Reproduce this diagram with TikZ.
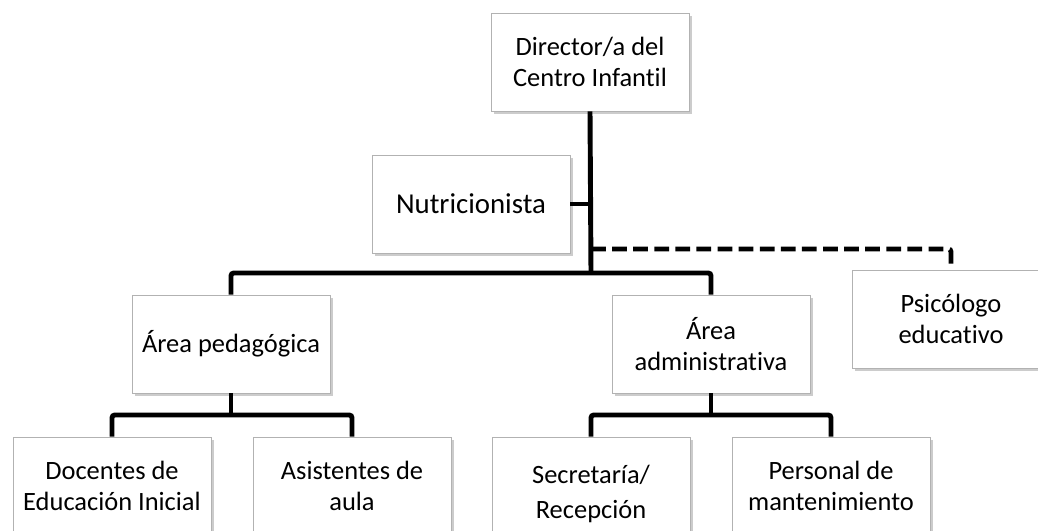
\documentclass[tikz,border=0pt]{standalone}
\usepackage{fontspec}
\setmainfont{Carlito}[Ligatures={NoCommon}]
\usetikzlibrary{shadows}
\tikzset{
	box/.style={draw=gray!60,fill=white,align=center,inner sep=2pt,
		minimum width=4.95cm,minimum height=2.45cm,
		drop shadow={opacity=0.4,shadow xshift=1.8pt,shadow yshift=-1.8pt},
		font=\fontsize{18.8}{22}\selectfont},
	link/.style={line width=3.5pt,rounded corners=2pt},
	dashlink/.style={link,dash pattern=on 10.5pt off 4.5pt}
}
\begin{document}
\begin{tikzpicture}[x=0.025cm,y=-0.025cm]
		\useasboundingbox (0,0) rectangle (1038,531);
		\draw (590,62) node[box](Dir) {Director/a del\\Centro Infantil};
		\draw (471,204) node[box,font=\fontsize{20.5}{24}\selectfont](Nut) {Nutricionista};
		\draw (231,344) node[box](Ped) {Área pedagógica};
		\draw (711,344) node[box](Adm) {Área\\administrativa};
		\draw (951,319) node[box](Psi) {Psicólogo\\educativo};
		\draw (112,486) node[box](Doc) {Docentes de\\Educación Inicial};
		\draw (352,486) node[box](Asi) {Asistentes de\\aula};
		\draw (591,494) node[box,minimum height=2.85cm,font=\fontsize{18.8}{25}\selectfont](Sec) {Secretaría/\\Recepción};
		\draw (831,486) node[box](Per) {Personal de\\mantenimiento};
		\coordinate (bar) at (591,273);
		\coordinate (dsh) at (591,249);
		\coordinate (pbar) at (231,415);
		\coordinate (abar) at (711,415);
        \draw[link] (Dir.south) -- (bar);
        \draw[link] (Nut.east) -- (Nut.east -| bar);
        \draw[dashlink] (dsh) -| (Psi.north);
        \draw[link] (Ped.north) |- (bar) -| (Adm.north);
        \draw[link] (Ped.south) -- (pbar);
        \draw[link] (Doc.north) |- (pbar) -| (Asi.north);
        \draw[link] (Adm.south) -- (abar);
        \draw[link] (Sec.north) |- (abar) -| (Per.north);
    \end{tikzpicture}
\end{document}
